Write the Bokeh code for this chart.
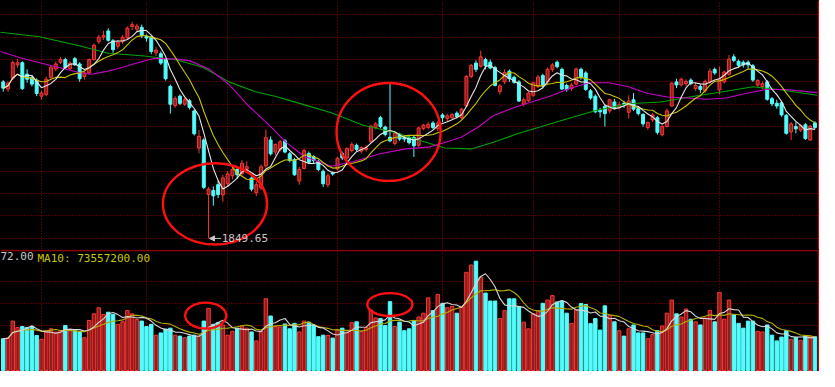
import numpy as np
import pandas as pd
from bokeh.plotting import figure
from bokeh.layouts import column
from bokeh.models import Range1d, FixedTicker, Span, Label, Arrow, NormalHead
from bokeh.embed import file_html
from bokeh.resources import INLINE

# ---------------- data (daily candles) ----------------
open_ = [2200, 2184, 2208, 2238, 2243, 2217, 2210, 2204,
         2168, 2172, 2210, 2229, 2244, 2250, 2230, 2252, 2240, 2212, 2220, 2250, 2290, 2300, 2314, 2292, 2280, 2290, 2299, 2324, 2318, 2322,
         2302, 2300, 2265, 2263, 2250, 2190, 2147, 2168, 2150, 2158, 2135, 2052, 2070, 1948, 1957, 1970, 1947,
         1972, 1990, 2004, 1995, 2005, 1985, 1952, 1963, 2012, 2070, 2043, 2048, 2068, 2039, 2026, 1978, 2006, 2040, 2033, 2022, 2000, 1970, 1996,
         2005, 2040, 2030, 2046, 2058, 2045, 2049, 2066, 2098, 2120, 2099, 2076, 2062, 2083, 2076, 2075, 2076, 2058, 2096, 2098, 2108, 2096,
         2126, 2118, 2120, 2130, 2120, 2146, 2212, 2242, 2235, 2250, 2244, 2232, 2178, 2200, 2224, 2210, 2200, 2150, 2158,
         2170, 2190, 2214, 2200, 2228, 2244, 2228, 2192, 2185, 2195, 2228, 2220, 2180, 2168, 2136, 2145, 2135, 2155,
         2142, 2152, 2132, 2160, 2140, 2127, 2098, 2115, 2120, 2082, 2100, 2146, 2200, 2193, 2196, 2204, 2185, 2190, 2180, 2200, 2228,
         2182, 2200, 2217, 2256, 2246, 2244, 2244, 2236, 2193, 2189, 2200, 2162, 2152, 2153, 2125, 2088, 2100, 2092, 2104, 2070, 2108]
high = [2204, 2201, 2247, 2251, 2246, 2228, 2215, 2208,
        2180, 2212, 2236, 2245, 2256, 2254, 2246, 2256, 2244, 2224, 2252, 2286, 2305, 2314, 2320, 2296, 2294, 2305, 2324, 2334, 2330, 2328,
        2306, 2303, 2278, 2268, 2253, 2194, 2168, 2172, 2164, 2162, 2138, 2092, 2074, 1965, 1966, 1978, 1992,
        2000, 2010, 2010, 2025, 2022, 1988, 1976, 2015, 2093, 2078, 2062, 2070, 2072, 2043, 2030, 2010, 2050, 2044, 2036, 2026, 2004, 1995, 2000,
        2032, 2044, 2054, 2065, 2062, 2056, 2058, 2104, 2110, 2124, 2102, 2198, 2088, 2086, 2080, 2080, 2080, 2100, 2106, 2110, 2112, 2112,
        2130, 2128, 2130, 2134, 2142, 2215, 2240, 2248, 2270, 2254, 2250, 2236, 2195, 2228, 2228, 2214, 2204, 2165, 2178,
        2200, 2215, 2218, 2232, 2242, 2248, 2232, 2196, 2198, 2232, 2232, 2224, 2184, 2172, 2142, 2150, 2162, 2162,
        2155, 2158, 2170, 2175, 2144, 2130, 2112, 2130, 2124, 2104, 2140, 2200, 2207, 2210, 2206, 2208, 2200, 2194, 2205, 2230, 2232,
        2234, 2225, 2260, 2262, 2250, 2248, 2248, 2240, 2206, 2200, 2204, 2166, 2160, 2158, 2128, 2110, 2110, 2106, 2108, 2104, 2112]
low = [2178, 2178, 2204, 2232, 2182, 2198, 2190, 2168,
       2160, 2168, 2207, 2224, 2240, 2228, 2226, 2236, 2200, 2205, 2216, 2248, 2285, 2294, 2290, 2265, 2274, 2285, 2295, 2316, 2312, 2298,
       2290, 2262, 2258, 2238, 2203, 2129, 2142, 2148, 2146, 2138, 2080, 2040, 1960, 1849.65, 1923, 1940, 1932,
       1965, 1982, 1983, 1990, 2000, 1955, 1945, 1958, 2008, 2035, 2036, 2044, 2040, 2020, 1990, 1970, 2004, 2016, 2018, 2000, 1965, 1964, 1990,
       2002, 2025, 2026, 2042, 2045, 2040, 2044, 2064, 2094, 2096, 2078, 2065, 2058, 2068, 2066, 2060, 2032, 2054, 2092, 2094, 2094, 2090,
       2110, 2112, 2115, 2118, 2116, 2144, 2208, 2222, 2232, 2228, 2228, 2190, 2172, 2195, 2200, 2196, 2155, 2145, 2155,
       2166, 2186, 2185, 2195, 2222, 2230, 2182, 2178, 2180, 2192, 2205, 2180, 2160, 2130, 2120, 2100, 2130, 2138,
       2138, 2142, 2118, 2135, 2125, 2100, 2093, 2110, 2082, 2078, 2098, 2144, 2186, 2190, 2190, 2192, 2180, 2175, 2175, 2196, 2216,
       2172, 2196, 2214, 2244, 2232, 2232, 2230, 2200, 2188, 2184, 2158, 2146, 2140, 2122, 2082, 2070, 2085, 2088, 2070, 2068, 2094]
close = [2186, 2197, 2243, 2243, 2185, 2206, 2195, 2174,
         2175, 2206, 2233, 2240, 2250, 2232, 2242, 2238, 2207, 2220, 2250, 2282, 2300, 2304, 2293, 2272, 2289, 2300, 2320, 2328, 2325, 2303,
         2298, 2268, 2271, 2242, 2207, 2150, 2163, 2152, 2160, 2143, 2084, 2078, 1964, 1960, 1945, 1948, 1985,
         1994, 2004, 1992, 2018, 2010, 1960, 1970, 2010, 2075, 2039, 2060, 2066, 2043, 2024, 1992, 2004, 2046, 2020, 2024, 2004, 1972, 1990, 1994,
         2029, 2030, 2051, 2060, 2049, 2053, 2052, 2101, 2106, 2100, 2082, 2068, 2085, 2072, 2072, 2064, 2057, 2097, 2103, 2105, 2098, 2108,
         2120, 2124, 2127, 2122, 2139, 2212, 2237, 2228, 2256, 2236, 2231, 2192, 2191, 2221, 2207, 2199, 2157, 2160, 2175,
         2198, 2211, 2191, 2228, 2238, 2234, 2184, 2183, 2193, 2229, 2210, 2183, 2164, 2133, 2133, 2129, 2160, 2141,
         2149, 2150, 2157, 2139, 2129, 2106, 2109, 2126, 2087, 2100, 2135, 2197, 2193, 2206, 2201, 2196, 2192, 2183, 2201, 2224, 2220,
         2207, 2222, 2251, 2248, 2237, 2238, 2238, 2204, 2203, 2196, 2161, 2151, 2146, 2126, 2085, 2106, 2095, 2102, 2073, 2101, 2098]
volume_m = [71.5, 73.6, 111.0, 96.6, 98.7, 96.6, 98.7, 78.7,
            70.1, 89.4, 93.7, 86.6, 89.4, 100.9, 93.0, 89.4, 86.6, 73.6, 112.3, 127.3, 140.9, 125.9, 130.9, 125.9, 103.7, 109.4, 134.5, 127.3, 114.4, 111.0,
            98.7, 103.7, 79.4, 84.4, 93.0, 95.1, 79.4, 77.3, 73.6, 77.3, 79.4, 77.3, 111.0, 139.5, 103.7, 107.3, 102.3,
            79.4, 88.0, 95.1, 100.2, 95.1, 86.6, 66.5, 88.0, 161.0, 122.3, 98.7, 98.0, 104.5, 93.7, 105.9, 86.6, 111.0, 108.7, 102.3, 76.0, 79.4, 78.7, 72.9,
            91.6, 95.1, 86.6, 107.3, 109.4, 88.0, 96.6, 135.9, 118.0, 116.6, 100.9, 154.5, 98.7, 108.7, 89.4, 93.7, 111.0, 120.2, 128.7, 163.0, 134.5, 170.8,
            150.8, 140.9, 143.8, 128.7, 143.8, 220.3, 236.7, 245.3, 209.6, 173.8, 155.9, 155.9, 116.6, 134.5, 161.0, 161.0, 143.8, 108.7, 93.7,
            127.3, 134.6, 150.9, 158.1, 168.1, 153.8, 155.9, 128.7, 105.9, 136.6, 150.2, 148.1, 105.2, 116.6, 90.8, 145.2, 123.8, 109.4,
            89.4, 77.3, 93.7, 102.3, 84.4, 84.4, 71.5, 80.8, 89.4, 100.0, 128.7, 158.1, 127.3, 120.2, 138.1, 115.2, 109.4, 102.3, 118.1, 134.6, 109.4,
            175.2, 115.2, 158.1, 125.2, 105.9, 95.1, 110.9, 110.9, 88.0, 86.6, 102.3, 79.4, 66.5, 75.1, 89.4, 70.1, 73.6, 67.9, 77.3, 77.3, 75.9]

# slow moving averages (candle index, value)
ma_mid_idx = [-0.6, 3.5, 7.6, 11.7, 15.9, 18.5, 22.0, 24.1, 28.2, 31.7, 36.4, 39.1, 43.2, 47.3, 51.4, 56.3, 59.0, 63.1, 68.7,
              73.4, 78.9, 84.3, 89.2, 93.3, 95.9, 99.5, 102.7, 106.9, 112.4, 114.5, 118.6, 122.7, 126.8, 130.9, 135.0,
              139.1, 143.2, 147.3, 151.4, 155.5, 159.7, 163.8, 170.5]
ma_mid_val = [2268, 2254, 2243, 2232, 2221, 2217, 2224, 2230, 2243, 2253, 2251, 2247, 2228, 2194, 2146, 2097, 2067, 2033, 2011,
              2022, 2039, 2050, 2054, 2067, 2076, 2099, 2125, 2142, 2161, 2168, 2185, 2198, 2198, 2189, 2174,
              2166, 2164, 2161, 2164, 2174, 2183, 2183, 2176]
ma_long_idx = [-0.6, 7.6, 15.9, 22.0, 29.6, 36.4, 41.9, 47.3, 52.8, 56.9, 61.7, 68.7, 75.4, 82.2, 87.8, 92.5, 98.0, 102.7,
               108.3, 112.4, 117.1, 124.1, 130.9, 137.7, 144.7, 151.4, 157.0, 162.3, 170.5]
ma_long_val = [2311, 2301, 2281, 2264, 2258, 2249, 2232, 2200, 2178, 2168, 2153, 2131, 2103, 2086, 2067, 2052, 2050, 2065,
               2086, 2099, 2114, 2136, 2151, 2155, 2168, 2179, 2189, 2183, 2170]

month_start_idx = [8, 30, 47, 70, 92, 111, 129, 150]
price_grid = [1850, 1900, 1950, 2000, 2050, 2100, 2150, 2200, 2250, 2300, 2350]
vol_grid = [50, 100, 150, 200]
vol_label_left = "72.00"
vol_label_ma10 = "MA10: 73557200.00"

# hand-drawn red circles (annotation): centre index, centre value, width (candles), height (value units)
circ_price_x = [44.35, 80.7]
circ_price_y = [1927, 2088]
circ_price_w = [21.8, 21.8]
circ_price_h = [182, 219]
circ_vol_x = [42.4, 80.97]
circ_vol_y = [123.4, 148.0]
circ_vol_w = [8.6, 9.45]
circ_vol_h = [58.0, 51.5]

# ---------------- derived ----------------
n = len(close)
idx = np.arange(n)
o = np.array(open_, float); c = np.array(close, float)
h = np.array(high, float); l = np.array(low, float)
up = c >= o
ma5 = pd.Series(c).rolling(5, min_periods=1).mean()
ma10 = pd.Series(c).rolling(10, min_periods=1).mean()
vol = np.array(volume_m, float)
vma5 = pd.Series(vol).rolling(5, min_periods=1).mean()
vma10 = pd.Series(vol).rolling(10, min_periods=1).mean()

RED_LINE = "#ff3434"
RED_FILL = "#8e1e1e"
CYAN = "#54fcfc"
GRID = "#a00000"

W = 819
HP = 249
HV = 122
X0, X1 = -0.575, 170.95

def base_fig(height, y0, y1):
    f = figure(width=W, height=height, output_backend="svg", toolbar_location=None,
               x_range=Range1d(X0, X1), y_range=Range1d(y0, y1),
               min_border=0, min_border_left=0, min_border_right=0,
               min_border_top=0, min_border_bottom=0)
    f.background_fill_color = "black"
    f.border_fill_color = "black"
    f.outline_line_color = None
    f.xaxis.visible = False
    f.yaxis.visible = False
    return f

def style_grid(f, xt, yt):
    f.xgrid.ticker = FixedTicker(ticks=xt)
    f.ygrid.ticker = FixedTicker(ticks=yt)
    for g in (f.xgrid, f.ygrid):
        g.grid_line_color = GRID
        g.grid_line_dash = "1 2"
        g.grid_line_width = 1

# ---------------- price panel ----------------
p = base_fig(HP, 1824.9, 2382.1)
style_grid(p, month_start_idx, price_grid)

upi = idx[up]; dni = idx[~up]
p.segment(upi, h[up], upi, l[up], color=RED_LINE, line_width=1)
p.segment(dni, h[~up], dni, l[~up], color=CYAN, line_width=1)
p.vbar(x=upi, width=0.62, top=c[up], bottom=o[up], fill_color=RED_FILL, line_color=RED_LINE, line_width=1)
p.vbar(x=dni, width=0.62, top=o[~up], bottom=c[~up], fill_color=CYAN, line_color=CYAN, line_width=1)

p.line(ma_long_idx, ma_long_val, color="#00a400", line_width=1.1)
p.line(ma_mid_idx, ma_mid_val, color="#c800c8", line_width=1.1)
p.line(idx, ma10, color="#c8c400", line_width=1.1)
p.line(idx, ma5, color="#e6e6e6", line_width=1.1)

p.ellipse(x=circ_price_x, y=circ_price_y, width=circ_price_w, height=circ_price_h,
          fill_color=None, line_color="#ff1010", line_width=2.4)

imin = int(np.argmin(l))
p.add_layout(Arrow(end=NormalHead(size=5, fill_color="#c8c8c8", line_color="#c8c8c8"),
                   x_start=imin + 2.6, y_start=l[imin], x_end=imin + 0.2, y_end=l[imin],
                   line_color="#c8c8c8", line_width=1))
p.add_layout(Label(x=imin + 2.75, y=l[imin], text=f"{l[imin]:.2f}", text_color="#c8c8c8",
                   text_font="DejaVu Sans Mono", text_font_size="11px", text_baseline="middle"))
p.add_layout(Span(location=170.75, dimension="height", line_color="#d00000", line_width=1.5))

# ---------------- volume panel ----------------
v = base_fig(HV, -2.1, 271.5)
style_grid(v, month_start_idx, vol_grid)

v.vbar(x=upi, width=0.72, top=vol[up], bottom=0, fill_color=RED_FILL, line_color=RED_LINE, line_width=1)
v.vbar(x=dni, width=0.72, top=vol[~up], bottom=0, fill_color=CYAN, line_color=CYAN, line_width=1)
v.line(idx, vma10, color="#b4b000", line_width=1.1)
v.line(idx, vma5, color="#d8d8d8", line_width=1.1)
v.ellipse(x=circ_vol_x, y=circ_vol_y, width=circ_vol_w, height=circ_vol_h,
          fill_color=None, line_color="#ff1010", line_width=2.4)

v.add_layout(Span(location=269.3, dimension="width", line_color="#8c0000", line_width=1.5))
v.add_layout(Span(location=170.75, dimension="height", line_color="#d00000", line_width=1.5))
v.add_layout(Label(x=0, y=HV - 2, x_units="screen", y_units="screen", text=vol_label_left,
                   text_color="#c8c8c8", text_font="DejaVu Sans Mono", text_font_size="11px",
                   text_baseline="top"))
v.add_layout(Label(x=37, y=HV - 2, x_units="screen", y_units="screen", text=vol_label_ma10,
                   text_color="#c8c800", text_font="DejaVu Sans Mono", text_font_size="11px",
                   text_baseline="top"))

layout = column(p, v, spacing=0)
layout.styles = {"background-color": "black"}
open("out.html", "w").write(file_html(layout, INLINE))
